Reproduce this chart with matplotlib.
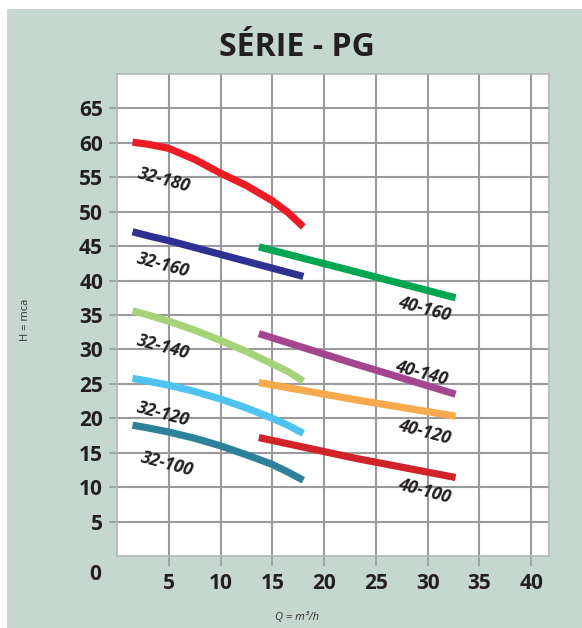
import matplotlib.pyplot as plt
from matplotlib.patches import Rectangle

# pump curves (Q in m3/h, H in mca)
q_32 = [1.5, 3, 5, 7.5, 10, 12.5, 15, 16.5, 18]
h_32_180 = [60.1, 59.8, 59.2, 57.6, 55.6, 53.8, 51.6, 49.9, 47.8]
h_32_160 = [47.1, 46.5, 45.8, 44.8, 43.8, 42.8, 41.8, 41.2, 40.6]
h_32_140 = [35.6, 35.0, 34.1, 32.8, 31.3, 29.7, 27.9, 26.8, 25.4]
h_32_120 = [25.8, 25.4, 24.8, 23.9, 22.8, 21.5, 20.0, 19.0, 17.8]
h_32_100 = [19.0, 18.6, 18.0, 17.1, 16.0, 14.7, 13.3, 12.2, 11.0]

q_40 = [13.7, 23, 32.7]
h_40_160 = [44.9, 41.3, 37.5]
h_40_140 = [32.3, 27.9, 23.5]
h_40_120 = [25.2, 22.7, 20.3]
h_40_100 = [17.2, 14.2, 11.4]

names = ['32-180', '32-160', '32-140', '32-120', '32-100',
         '40-160', '40-140', '40-120', '40-100']
colors = ['#ed1c24', '#2e3192', '#a6d279', '#4fc3f0', '#2d8199',
          '#00a651', '#a3468f', '#f7a94b', '#d2232a']
label_pos = [(4.6, 54.6), (4.5, 42.3), (4.5, 30.4), (4.5, 20.6), (4.8, 13.3),
             (29.7, 35.8), (29.4, 26.5), (29.7, 18.0), (29.7, 9.4)]

x_ticks = [5, 10, 15, 20, 25, 30, 35, 40]
y_ticks = [5, 10, 15, 20, 25, 30, 35, 40, 45, 50, 55, 60, 65]

panel = '#c5d8cf'
grid_c = '#9a9a9e'
font = 'Open Sans'

fig = plt.figure(figsize=(5.82, 6.28), dpi=100)
fig.patch.set_facecolor('white')
fig.patches.append(Rectangle((7 / 582, 0), 1, 1 - 9 / 628, transform=fig.transFigure,
                             facecolor=panel, edgecolor='none', zorder=-5))

ax = fig.add_axes([117 / 582, 1 - 556 / 628, (548.7 - 117) / 582, (556 - 74) / 628])
ax.set_facecolor('white')
ax.set_xlim(0, 41.7)
ax.set_ylim(0, 70)

series = [(q_32, h_32_180), (q_32, h_32_160), (q_32, h_32_140), (q_32, h_32_120), (q_32, h_32_100),
          (q_40, h_40_160), (q_40, h_40_140), (q_40, h_40_120), (q_40, h_40_100)]
for (q, h), c, name, (lx, ly) in zip(series, colors, names, label_pos):
    ax.plot(q, h, color=c, lw=5.2, solid_capstyle='butt', solid_joinstyle='round', zorder=3)
    ax.text(lx, ly, name, rotation=-15, ha='center', va='center', fontsize=12.5,
            fontweight='bold', fontstyle='italic', family=font, color='#231f20', zorder=4)

ax.set_xticks(x_ticks)
ax.set_yticks(y_ticks)
ax.grid(True, color=grid_c, lw=1.5)
ax.set_axisbelow(True)
ax.tick_params(axis='both', length=6, width=1.2, color=grid_c, labelcolor='#231f20',
               labelsize=15, pad=4)
ax.tick_params(axis='x', length=7, pad=5)
for lab in ax.get_xticklabels() + ax.get_yticklabels():
    lab.set_fontweight('bold')
    lab.set_family(font)
for s in ax.spines.values():
    s.set_color('#b4b4b4')
    s.set_linewidth(1.2)

ax.text(-2.1, -2.75, '0', ha='center', va='center', fontsize=15, fontweight='bold',
        family=font, color='#231f20', clip_on=False)

fig.text(297 / 582, 1 - 47 / 628, 'SÉRIE - PG', ha='center', va='center', fontsize=23,
         fontweight='bold', family=font, color='#231f20')
fig.text(25 / 582, 1 - 320 / 628, 'H = mca', rotation=90, ha='center', va='center',
         fontsize=8, family=font, color='#333333')
fig.text(297 / 582, 1 - 617 / 628, 'Q = m³/h', ha='center', va='center', fontsize=8,
         fontstyle='italic', family=font, color='#333333')

fig.savefig('out.png', dpi=100, facecolor=fig.get_facecolor())
